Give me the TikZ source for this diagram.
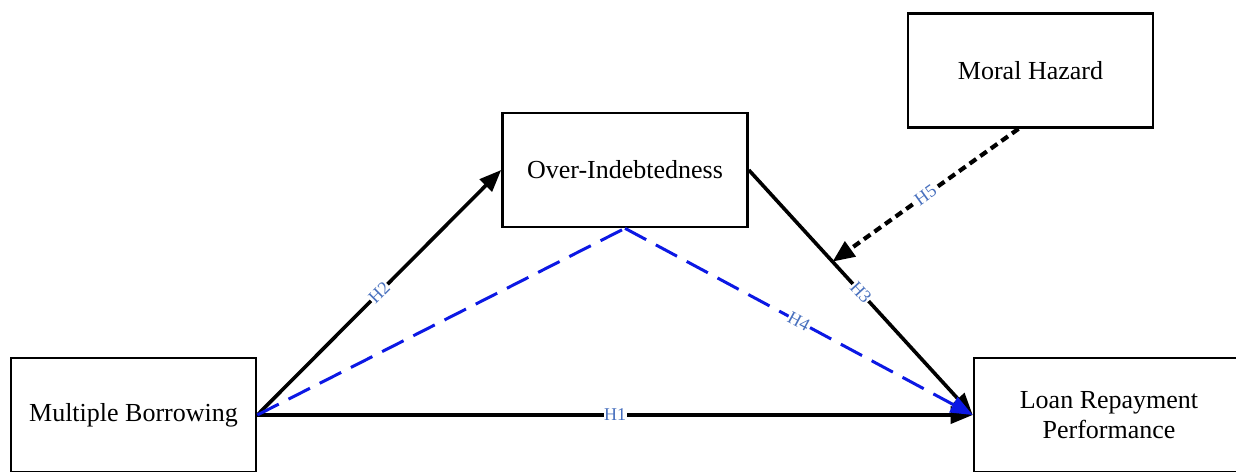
\documentclass[tikz,border=0pt]{standalone}
\usepackage{fontspec}
\setmainfont{Liberation Serif}
\usetikzlibrary{arrows.meta,calc}
\definecolor{lblblue}{RGB}{72,112,190}
\definecolor{dashblue}{RGB}{12,24,228}
\begin{document}
\begin{tikzpicture}[x=1pt,y=-1pt,
  box/.style={draw, line width=2.6pt, minimum width=245pt, minimum height=114pt,
    inner sep=0pt, align=center, font=\fontsize{26}{30}\selectfont},
  arr/.style={line width=3.6pt, -{Triangle[length=22pt,width=17pt]}},
  dotarr/.style={line width=4.2pt, dash pattern=on 8pt off 5pt, -{Triangle[length=22pt,width=18pt]}},
  bluedash/.style={line width=3pt, dashblue, dash pattern=on 24pt off 11pt},
  lbl/.style={font=\fontsize{18}{18}\selectfont, text=lblblue, fill=white, inner sep=0.5pt, sloped}
]
\useasboundingbox (0,0) rectangle (1236,471);
\clip (0,0) rectangle (1236,471);
\fill[white] (0,0) rectangle (1236,471);

\node[box] (mb) at (133.5,415) {Multiple Borrowing};
\node[box] (oi) at (625,170) {Over-Indebtedness};
\node[box] (mh) at (1030.5,70.5) {Moral Hazard};
\node[box, minimum width=270pt] (lrp) at (1109,415) {Loan Repayment\\Performance};

\draw[arr] (mb.east) -- node[lbl]{H1} (lrp.west);
\draw[arr] (mb.east) -- node[lbl]{H2} (oi.west);
\draw[arr] (oi.east) -- node[lbl]{H3} (lrp.west);
\path (oi.east) -- (lrp.west) coordinate[pos=0.374] (h5end);
\coordinate (h5start) at ($(mh.south)+(-12,0)$);
\draw[dotarr] (h5start) -- node[lbl]{H5} (h5end);

\draw[bluedash] (mb.east) -- (oi.south);
\draw[bluedash, -{Triangle[length=22pt,width=17pt]}] (oi.south) -- node[lbl]{H4} (lrp.west);
\end{tikzpicture}
\end{document}
